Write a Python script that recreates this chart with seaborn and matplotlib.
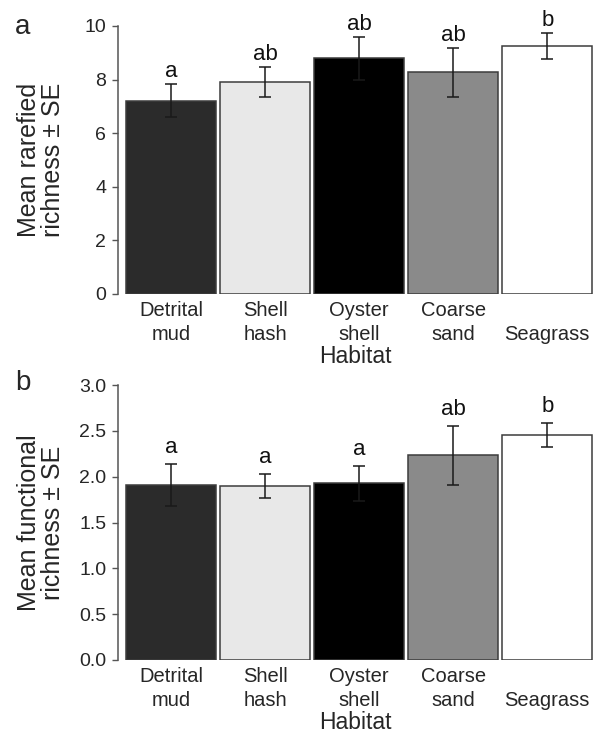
import numpy as np
import pandas as pd
import matplotlib
matplotlib.use("Agg")
import matplotlib.pyplot as plt
import seaborn as sns

habitats = ["Detrital\nmud", "Shell\nhash", "Oyster\nshell", "Coarse\nsand", "\nSeagrass"]
bar_colors = ["#2b2b2b", "#e8e8e8", "#000000", "#8a8a8a", "#ffffff"]

rarefied_mean = [7.21, 7.91, 8.80, 8.27, 9.26]
rarefied_se = [0.61, 0.57, 0.80, 0.91, 0.48]
rarefied_letters = ["a", "ab", "ab", "ab", "b"]

functional_mean = [1.906, 1.90, 1.93, 2.233, 2.451]
functional_se = [0.228, 0.128, 0.19, 0.325, 0.13]
functional_letters = ["a", "a", "a", "ab", "b"]

sns.set_style("white")
plt.rcParams['font.family'] = ['Liberation Sans', 'DejaVu Sans']

fig = plt.figure(figsize=(5.93, 7.34), dpi=100)
W, H = 593, 734


def panel(rect_px, means, ses, letters, letter_gap, ylim, yticks, yticklabels, ylabel, tag):
    x0, y_top, x1, y_bot = rect_px
    ax = fig.add_axes([x0 / W, 1 - y_bot / H, (x1 - x0) / W, (y_bot - y_top) / H])
    df = pd.DataFrame({"habitat": habitats, "mean": means})
    sns.barplot(data=df, x="habitat", y="mean", hue="habitat", palette=bar_colors,
                legend=False, width=0.955, edgecolor="#3c3c3c", linewidth=1.1,
                saturation=1, ax=ax)
    ax.errorbar(np.arange(len(means)), means, yerr=ses, fmt="none", ecolor="#1a1a1a",
                elinewidth=1.1, capsize=4.2, capthick=1.1)
    for i, (m, s, l) in enumerate(zip(means, ses, letters)):
        ax.text(i, m + s + letter_gap, l, ha="center", va="baseline", fontsize=16,
                color="#111111", clip_on=False)
    ax.set_xlim(-0.564, 4.486)
    ax.set_ylim(*ylim)
    ax.set_yticks(yticks)
    ax.set_yticklabels(yticklabels, fontsize=14)
    ax.tick_params(axis="y", direction="out", length=4.5, width=1, color="#555555",
                   pad=4, left=True)
    ax.tick_params(axis="x", length=0, pad=5, labelsize=14.5)
    for lab in ax.get_xticklabels():
        lab.set_linespacing(1.33)
    for side in ["top", "right", "bottom"]:
        ax.spines[side].set_visible(False)
    ax.spines["left"].set_color("#555555")
    ax.spines["left"].set_linewidth(1.1)
    ax.set_xlabel("Habitat", fontsize=16.5, labelpad=1)
    ax.set_ylabel(ylabel, fontsize=18, linespacing=1.0)
    ax.yaxis.set_label_coords(-0.112, 0.5)
    fig.text(15 / W, 1 - tag[1] / H, tag[0], fontsize=20, ha="left", va="baseline")
    return ax


panel((118, 26, 593, 294), rarefied_mean, rarefied_se, rarefied_letters, 0.26,
      (0, 10), [0, 2, 4, 6, 8, 10], ["0", "2", "4", "6", "8", "10"],
      "Mean rarefied\nrichness ± SE", ("a", 34))
panel((118, 385, 593, 660), functional_mean, functional_se, functional_letters, 0.12,
      (0, 3), [0, 0.5, 1, 1.5, 2, 2.5, 3],
      ["0.0", "0.5", "1.0", "1.5", "2.0", "2.5", "3.0"],
      "Mean functional\nrichness ± SE", ("b", 390))

fig.savefig("out.png", dpi=100)
